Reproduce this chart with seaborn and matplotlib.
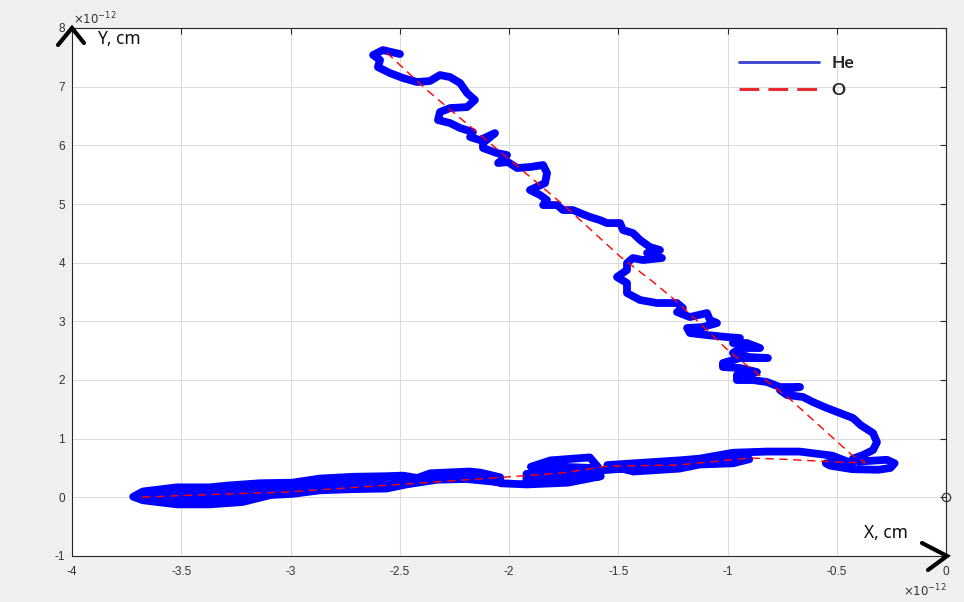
import matplotlib
matplotlib.use("Agg")
import matplotlib.pyplot as plt
import numpy as np
import pandas as pd
import seaborn as sns
from matplotlib.lines import Line2D

SCALE = 1e-12

# He trajectory (units of 1e-12 cm): wiggly descent from the top
he_diag = [
    (-2.499, 7.556), (-2.577, 7.624), (-2.622, 7.539), (-2.590, 7.454), (-2.600, 7.334),
    (-2.545, 7.232), (-2.485, 7.147), (-2.421, 7.079), (-2.362, 7.096), (-2.316, 7.198),
    (-2.270, 7.164), (-2.224, 7.062), (-2.192, 6.891), (-2.156, 6.772), (-2.192, 6.652),
    (-2.270, 6.635), (-2.316, 6.567), (-2.325, 6.431), (-2.270, 6.380), (-2.224, 6.295),
    (-2.165, 6.226), (-2.178, 6.141), (-2.133, 6.090), (-2.064, 6.209), (-2.119, 6.039),
    (-2.119, 5.954), (-2.055, 5.868), (-2.009, 5.834), (-2.050, 5.698), (-2.005, 5.715),
    (-1.963, 5.613), (-1.904, 5.630), (-1.844, 5.664), (-1.826, 5.528), (-1.835, 5.357),
    (-1.904, 5.238), (-1.858, 5.153), (-1.826, 5.067), (-1.844, 4.982), (-1.780, 4.982),
    (-1.753, 4.897), (-1.707, 4.897), (-1.675, 4.846), (-1.629, 4.778), (-1.584, 4.726),
    (-1.552, 4.675), (-1.492, 4.675), (-1.478, 4.556), (-1.433, 4.505), (-1.400, 4.386),
    (-1.355, 4.266), (-1.309, 4.215), (-1.368, 4.164), (-1.300, 4.079), (-1.387, 4.045),
    (-1.433, 4.079), (-1.460, 3.993), (-1.460, 3.874), (-1.506, 3.755), (-1.460, 3.653),
    (-1.460, 3.482), (-1.400, 3.363), (-1.323, 3.312), (-1.231, 3.312), (-1.204, 3.227),
    (-1.231, 3.158), (-1.172, 3.073), (-1.094, 3.141), (-1.080, 3.022), (-1.048, 2.971),
    (-1.112, 2.903), (-1.185, 2.886), (-1.172, 2.800), (-1.094, 2.766), (-1.002, 2.732),
    (-0.943, 2.715), (-0.975, 2.630), (-0.911, 2.630), (-0.851, 2.545), (-0.943, 2.545),
    (-0.975, 2.460), (-0.897, 2.391), (-0.815, 2.374), (-0.943, 2.374), (-1.021, 2.289),
    (-1.021, 2.221), (-0.943, 2.204), (-0.865, 2.136), (-0.957, 2.085), (-0.957, 1.999),
    (-0.883, 1.999), (-0.819, 1.965), (-0.760, 1.880), (-0.668, 1.880), (-0.760, 1.829),
    (-0.728, 1.744), (-0.654, 1.710), (-0.609, 1.624), (-0.545, 1.522), (-0.485, 1.437),
    (-0.426, 1.352), (-0.390, 1.230), (-0.334, 1.096), (-0.316, 0.940), (-0.334, 0.806),
    (-0.380, 0.721), (-0.426, 0.660), (-0.400, 0.610), (-0.270, 0.640), (-0.235, 0.580),
    (-0.255, 0.500), (-0.310, 0.470), (-0.430, 0.480), (-0.530, 0.540), (-0.550, 0.580),
    (-0.490, 0.600), (-0.430, 0.580),
]

# He trajectory: back-and-forth band along the bottom
he_band = [
    # right part of the band
    (-0.520, 0.710), (-0.670, 0.780), (-0.820, 0.780), (-0.975, 0.760), (-1.126, 0.660),
    (-1.220, 0.630), (-1.430, 0.580), (-1.550, 0.550), (-1.430, 0.440), (-1.220, 0.490),
    (-1.126, 0.560), (-0.975, 0.580), (-0.900, 0.650), (-1.000, 0.670), (-1.200, 0.560),
    (-1.400, 0.510), (-1.580, 0.460),
    # blob near x = -1.8
    (-1.630, 0.680), (-1.810, 0.630), (-1.900, 0.520), (-1.750, 0.520), (-1.620, 0.500),
    (-1.600, 0.400), (-1.750, 0.400), (-1.920, 0.400), (-1.920, 0.300), (-1.730, 0.310),
    (-1.580, 0.360), (-1.730, 0.250), (-1.920, 0.220), (-2.040, 0.240),
    # left part of the band
    (-2.040, 0.340), (-2.130, 0.420), (-2.180, 0.440), (-2.360, 0.410), (-2.420, 0.330),
    (-2.485, 0.370), (-2.560, 0.360), (-2.714, 0.350), (-2.865, 0.320), (-2.990, 0.250),
    (-3.140, 0.240), (-3.290, 0.200), (-3.370, 0.170), (-3.520, 0.170), (-3.675, 0.100),
    (-3.720, 0.010), (-3.675, -0.050), (-3.520, -0.120), (-3.370, -0.120), (-3.220, -0.080),
    (-3.090, 0.040), (-2.990, 0.060), (-2.865, 0.120), (-2.714, 0.140), (-2.560, 0.150),
    (-2.470, 0.220), (-2.330, 0.300), (-2.130, 0.320), (-2.050, 0.260), (-2.300, 0.350),
    (-2.560, 0.270), (-2.714, 0.250), (-2.865, 0.220), (-2.990, 0.155), (-3.140, 0.120),
    (-3.290, 0.080), (-3.520, 0.060), (-3.680, 0.030), (-3.620, -0.030), (-3.450, -0.040),
    (-3.300, -0.020), (-3.150, 0.020),
]

# O trajectory (units of 1e-12 cm)
o_path = [
    (-2.56, 7.58), (-2.375, 6.94), (-2.04, 5.89), (-1.74, 4.95), (-1.49, 4.10),
    (-1.34, 3.67), (-1.23, 3.33), (-0.99, 2.48), (-0.71, 1.66), (-0.43, 0.72),
    (-0.37, 0.59), (-0.49, 0.60), (-0.75, 0.65), (-0.90, 0.67), (-1.23, 0.55),
    (-1.55, 0.53), (-1.77, 0.41), (-2.00, 0.35), (-2.50, 0.22), (-3.02, 0.09),
    (-3.50, 0.03), (-3.70, 0.00),
]

origin = [(0.0, 0.0)]

x_ticks = [-4, -3.5, -3, -2.5, -2, -1.5, -1, -0.5, 0]
x_tick_labels = ["-4", "-3.5", "-3", "-2.5", "-2", "-1.5", "-1", "-0.5", "0"]
y_ticks = [-1, 0, 1, 2, 3, 4, 5, 6, 7, 8]
y_tick_labels = ["-1", "0", "1", "2", "3", "4", "5", "6", "7", "8"]
series_names = ["He", "O"]
axis_names = ["X, cm", "Y, cm"]
exponent_text = r"$\times10^{-12}$"

sns.set_style("white")
plt.rcParams["font.family"] = ["Liberation Sans", "DejaVu Sans"]
plt.rcParams["axes.unicode_minus"] = False

W, H = 964, 602
fig = plt.figure(figsize=(W / 100, H / 100), dpi=100, facecolor="#f0f0f0")
ax = fig.add_axes([72 / W, 1 - 556 / H, (946 - 72) / W, (556 - 28) / H])
ax.set_facecolor("white")

he = pd.DataFrame(he_diag + he_band, columns=["x", "y"]) * SCALE
o = pd.DataFrame(o_path, columns=["x", "y"]) * SCALE

sns.lineplot(data=he, x="x", y="y", sort=False, estimator=None, ax=ax,
             color="#0000ff", linewidth=5.6, solid_joinstyle="round",
             solid_capstyle="round", zorder=3)
sns.lineplot(data=o, x="x", y="y", sort=False, estimator=None, ax=ax,
             color="#ff0000", linewidth=1.0, zorder=4)
ax.get_lines()[-1].set_dashes([6, 4])

orig = pd.DataFrame(origin, columns=["x", "y"]) * SCALE
ax.plot(orig["x"], orig["y"], "o", mfc="none", mec="#333333", ms=6, mew=0.9,
        clip_on=False, zorder=6)

ax.set_xlim(x_ticks[0] * SCALE, x_ticks[-1] * SCALE)
ax.set_ylim(y_ticks[0] * SCALE, y_ticks[-1] * SCALE)
ax.set_xticks([v * SCALE for v in x_ticks])
ax.set_xticklabels(x_tick_labels)
ax.set_yticks([v * SCALE for v in y_ticks])
ax.set_yticklabels(y_tick_labels)
ax.set_xlabel("")
ax.set_ylabel("")

ax.grid(True, color="#dcdcdc", linewidth=0.8)
ax.set_axisbelow(True)
for s in ax.spines.values():
    s.set_color("#262626")
    s.set_linewidth(0.8)
    s.set_visible(True)
ax.tick_params(direction="in", length=4, width=0.8, top=True, right=True,
               colors="#262626", labelsize=8.5, labelcolor="#333333")
ax.tick_params(axis="x", pad=7)
ax.tick_params(axis="y", pad=5)

# exponent labels
fig.text(73 / W, 1 - 19 / H, exponent_text, fontsize=8.5, color="#333333",
         ha="left", va="center")
fig.text(946 / W, 1 - 591 / H, exponent_text, fontsize=8.5, color="#333333",
         ha="right", va="center")

# legend
handles = [Line2D([0], [0], color="#3f48cc", lw=2.1),
           Line2D([0], [0], color="#e8262c", lw=2.1, dashes=[6.8, 3.1])]
leg = ax.legend(handles, series_names, loc="upper left",
                bbox_to_anchor=(730 / W, 1 - 46 / H), bbox_transform=fig.transFigure,
                frameon=False, handlelength=4.65, handletextpad=0.7,
                labelspacing=0.68, borderpad=0,
                prop={"family": ["Lato", "DejaVu Sans"], "weight": "bold", "size": 12.5})

# axis arrows and names
def pline(pts, **kw):
    xs = [p[0] / W for p in pts]
    ys = [1 - p[1] / H for p in pts]
    fig.add_artist(Line2D(xs, ys, transform=fig.transFigure, **kw))

arrow_kw = dict(color="black", lw=3.0, solid_capstyle="round",
                solid_joinstyle="miter", zorder=10)
pline([(58, 45), (72, 28), (84, 43)], **arrow_kw)
pline([(922, 543), (947, 556), (928, 570)], **arrow_kw)

fig.text(97 / W, 1 - 39 / H, axis_names[1], fontsize=12.5, color="#111111",
         ha="left", va="center", family=["Noto Sans", "DejaVu Sans"])
fig.text(864 / W, 1 - 533 / H, axis_names[0], fontsize=12.5, color="#111111",
         ha="left", va="center", family=["Noto Sans", "DejaVu Sans"])

fig.savefig("out.png", dpi=100, facecolor=fig.get_facecolor())
